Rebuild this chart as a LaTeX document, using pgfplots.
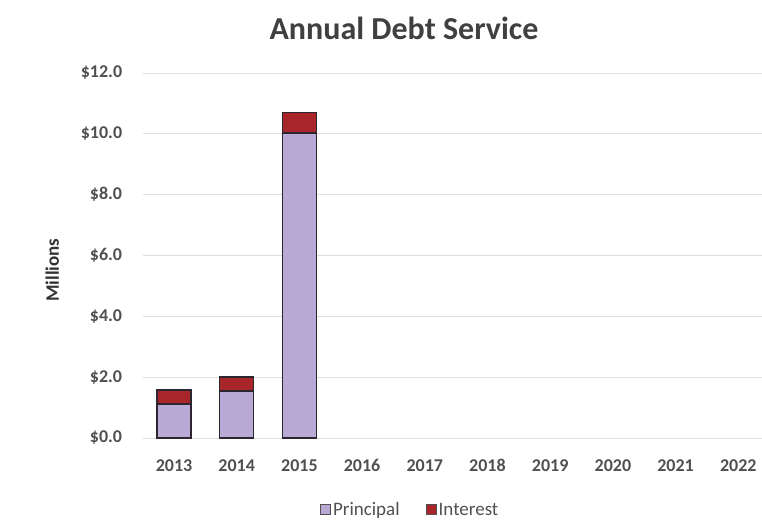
\documentclass[border=0pt]{standalone}
\usepackage{fontspec}
\setmainfont{Carlito}
\usepackage{pgfplots}
\pgfplotsset{compat=1.18}
\definecolor{princ}{RGB}{184,170,213}
\definecolor{inter}{RGB}{168,38,42}
\definecolor{edge}{RGB}{45,38,48}
\definecolor{txt}{RGB}{80,80,80}
\definecolor{grid}{RGB}{222,222,222}
\begin{document}
\begin{tikzpicture}[x=1pt,y=1pt]
\useasboundingbox (0,0) rectangle (762,520);
\begin{axis}[
  at={(142.65pt,82pt)}, anchor=south west,
  scale only axis, width=619.3pt, height=365pt,
  ybar stacked, bar width=34pt,
  xmin=-0.5, xmax=9.378, ymin=0, ymax=12,
  xtick={0,...,9},
  xticklabels={2013,2014,2015,2016,2017,2018,2019,2020,2021,2022},
  ytick={0,2,4,6,8,10,12},
  yticklabels={\$0.0,\$2.0,\$4.0,\$6.0,\$8.0,\$10.0,\$12.0},
  /pgf/number format/assume math mode=true,
  axis x line*=bottom, axis y line*=left,
  x axis line style={draw=grid, line width=1pt},
  y axis line style={draw=none},
  major tick length=0pt,
  ymajorgrids, grid style={draw=grid, line width=1pt},
  tick label style={font=\fontsize{18}{20}\selectfont\bfseries, text=txt},
  yticklabel style={anchor=east, xshift=-17pt},
  xticklabel style={anchor=north, yshift=-18pt},
  ylabel={Millions},
  ylabel style={at={(axis description cs:-0.146,0.46)}, anchor=center, rotate=0, font=\fontsize{19}{21}\selectfont\bfseries, text=black!80},
  title={Annual Debt Service},
  title style={at={(axis description cs:0.422,1.107)}, anchor=center, font=\fontsize{32}{36}\selectfont\bfseries, text=black!75},
  legend columns=2,
  legend style={at={(axis description cs:0.432,-0.197)}, anchor=center, draw=none, fill=none,
    font=\fontsize{19}{21}\selectfont, text=txt, /tikz/every even column/.append style={column sep=24pt}},
  legend image code/.code={\draw[#1, draw=txt, line width=1pt] (0pt,-5pt) rectangle (10pt,5pt);},
]
\addplot[fill=princ, draw=edge, line width=1.3pt] coordinates {(0,1.12) (1,1.55) (2,10.03)};
\addlegendentry{Principal}
\addplot[fill=inter, draw=edge, line width=1.3pt] coordinates {(0,0.46) (1,0.46) (2,0.66)};
\addlegendentry{Interest}
\end{axis}
\end{tikzpicture}
\end{document}
